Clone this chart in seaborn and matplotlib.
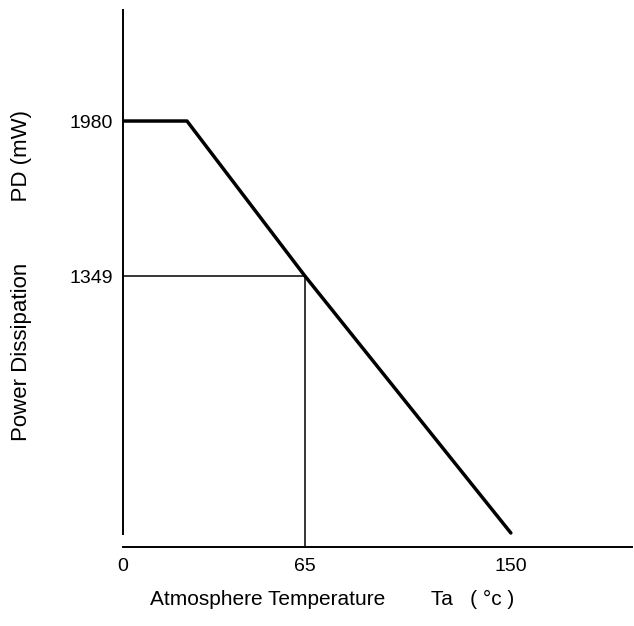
import numpy as np
import matplotlib
matplotlib.use('Agg')
import matplotlib.pyplot as plt
import seaborn as sns

# 降额曲线数据
temp = [0, 25, 65, 150]
power = [1980, 1980, 1349, 0]
x_ticks = [0, 65, 150]
y_ticks = [1980, 1349]
knee_temp = 65
knee_power = 1349

# 原图不是按比例画的, 用分段线性刻度对齐 (值 -> 像素)
x_cal_val = [0, 25, 65, 150]
x_cal_pix = [123, 187, 305, 511]
y_cal_val = [0, 1349, 1980]
y_cal_pix = [93, 350, 505]


def piecewise_scale(vals, pix):
    vals = np.asarray(vals, float)
    pix = np.asarray(pix, float)

    def _map(v, a, b):
        v = np.asarray(v, float)
        out = np.interp(v, a, b)
        lo = (b[1] - b[0]) / (a[1] - a[0])
        hi = (b[-1] - b[-2]) / (a[-1] - a[-2])
        out = np.where(v < a[0], b[0] + (v - a[0]) * lo, out)
        out = np.where(v > a[-1], b[-1] + (v - a[-1]) * hi, out)
        return out

    return (lambda v: _map(v, vals, pix)), (lambda p: _map(p, pix, vals))


sns.set_theme(style='white')
plt.rcParams['font.family'] = ['Liberation Sans', 'DejaVu Sans']

fig = plt.figure(figsize=(6.34, 6.26), dpi=100)
ax = fig.add_axes([123 / 634, 79 / 626, 509 / 634, 537 / 626])

ax.set_xscale('function', functions=piecewise_scale(x_cal_val, x_cal_pix))
ax.set_yscale('function', functions=piecewise_scale(y_cal_val, y_cal_pix))

sns.lineplot(x=temp, y=power, ax=ax, color='black', linewidth=2.5, sort=False)
ax.plot([0, knee_temp], [knee_power, knee_power], color='black', linewidth=1.1)
ax.plot([knee_temp, knee_temp], [-80, knee_power], color='black', linewidth=1.1)

ax.set_xlim(0, 200)
ax.set_ylim(-73.5, 2432)
ax.set_xticks(x_ticks)
ax.set_yticks(y_ticks)
ax.tick_params(axis='both', length=0, labelsize=14, colors='black')
ax.tick_params(axis='x', pad=8)
ax.tick_params(axis='y', pad=7)

for s in ['top', 'right']:
    ax.spines[s].set_visible(False)
for s in ['left', 'bottom']:
    ax.spines[s].set_color('black')
    ax.spines[s].set_linewidth(1.4)
ax.spines['left'].set_bounds(-5, 2432)

ax.set_xlabel('Atmosphere Temperature        Ta   ( °c )', fontsize=15, color='black')
ax.xaxis.set_label_coords(0.41, -0.080)
ax.set_ylabel('Power Dissipation          PD (mW)', fontsize=16, color='black')
ax.yaxis.set_label_coords(-0.178, 0.506)

plt.savefig('out.png', dpi=100)
plt.close()
